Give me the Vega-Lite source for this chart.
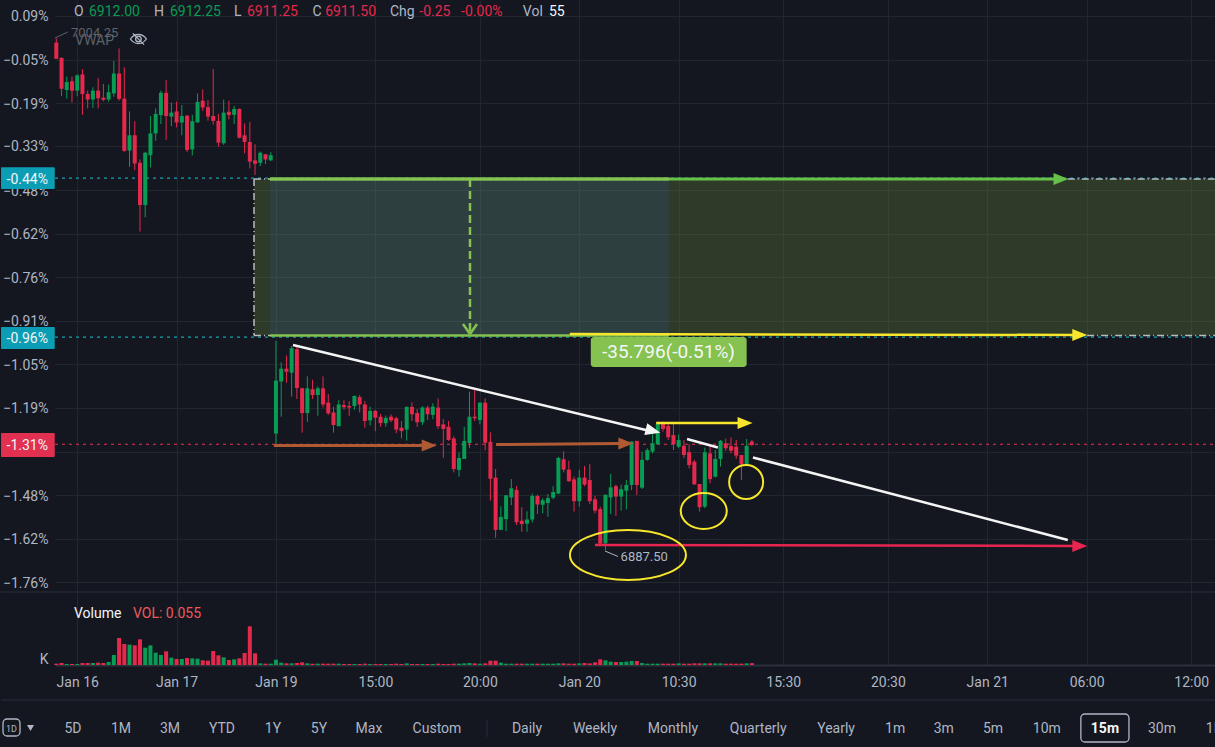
{"$schema":"https://vega.github.io/schema/vega-lite/v6.json","background":"#141720","padding":0,"spacing":0,"bounds":"flush","config":{"font":"Roboto","view":{"stroke":null},"axis":{"labelFont":"Roboto","labelFontSize":14,"labelColor":"#aeb6c4","gridColor":"#22262f","gridWidth":1,"ticks":false,"title":null,"labelOverlap":false,"labelFlush":false}},
"datasets":{
"candles":[
{"t":0,"o":0.003,"h":0.017,"l":-0.05,"c":-0.05,"kind":"down"},{"t":1,"o":-0.047,"h":-0.045,"l":-0.172,"c":-0.148,"kind":"down"},{"t":2,"o":-0.152,"h":-0.108,"l":-0.18,"c":-0.126,"kind":"up"},{"t":3,"o":-0.123,"h":-0.108,"l":-0.193,"c":-0.154,"kind":"down"},{"t":4,"o":-0.154,"h":-0.1,"l":-0.172,"c":-0.104,"kind":"up"},{"t":5,"o":-0.101,"h":-0.084,"l":-0.233,"c":-0.165,"kind":"down"},{"t":6,"o":-0.165,"h":-0.154,"l":-0.212,"c":-0.183,"kind":"down"},{"t":7,"o":-0.183,"h":-0.143,"l":-0.211,"c":-0.154,"kind":"up"},{"t":8,"o":-0.154,"h":-0.113,"l":-0.212,"c":-0.179,"kind":"down"},{"t":9,"o":-0.177,"h":-0.132,"l":-0.189,"c":-0.184,"kind":"down"},
{"t":10,"o":-0.183,"h":-0.134,"l":-0.19,"c":-0.159,"kind":"up"},{"t":11,"o":-0.163,"h":-0.057,"l":-0.174,"c":-0.098,"kind":"up"},{"t":12,"o":-0.098,"h":-0.016,"l":-0.187,"c":-0.181,"kind":"down"},{"t":13,"o":-0.18,"h":-0.078,"l":-0.354,"c":-0.351,"kind":"down"},{"t":14,"o":-0.35,"h":-0.222,"l":-0.403,"c":-0.3,"kind":"up"},{"t":15,"o":-0.3,"h":-0.254,"l":-0.414,"c":-0.392,"kind":"down"},{"t":16,"o":-0.39,"h":-0.379,"l":-0.615,"c":-0.528,"kind":"down"},{"t":17,"o":-0.528,"h":-0.354,"l":-0.568,"c":-0.357,"kind":"up"},{"t":18,"o":-0.365,"h":-0.237,"l":-0.405,"c":-0.294,"kind":"up"},{"t":19,"o":-0.294,"h":-0.212,"l":-0.318,"c":-0.23,"kind":"up"},
{"t":20,"o":-0.234,"h":-0.154,"l":-0.263,"c":-0.161,"kind":"up"},{"t":21,"o":-0.161,"h":-0.119,"l":-0.315,"c":-0.237,"kind":"down"},{"t":22,"o":-0.239,"h":-0.193,"l":-0.27,"c":-0.226,"kind":"up"},{"t":23,"o":-0.222,"h":-0.19,"l":-0.274,"c":-0.258,"kind":"down"},{"t":24,"o":-0.258,"h":-0.201,"l":-0.3,"c":-0.237,"kind":"up"},{"t":25,"o":-0.236,"h":-0.233,"l":-0.355,"c":-0.348,"kind":"down"},{"t":26,"o":-0.346,"h":-0.233,"l":-0.366,"c":-0.254,"kind":"up"},{"t":27,"o":-0.258,"h":-0.163,"l":-0.258,"c":-0.191,"kind":"up"},{"t":28,"o":-0.187,"h":-0.15,"l":-0.22,"c":-0.209,"kind":"down"},{"t":29,"o":-0.208,"h":-0.185,"l":-0.252,"c":-0.239,"kind":"down"},
{"t":30,"o":-0.237,"h":-0.083,"l":-0.265,"c":-0.253,"kind":"down"},{"t":31,"o":-0.253,"h":-0.23,"l":-0.337,"c":-0.324,"kind":"down"},{"t":32,"o":-0.326,"h":-0.183,"l":-0.331,"c":-0.226,"kind":"up"},{"t":33,"o":-0.223,"h":-0.187,"l":-0.248,"c":-0.234,"kind":"down"},{"t":34,"o":-0.233,"h":-0.204,"l":-0.263,"c":-0.214,"kind":"up"},{"t":35,"o":-0.214,"h":-0.212,"l":-0.31,"c":-0.308,"kind":"down"},{"t":36,"o":-0.3,"h":-0.261,"l":-0.359,"c":-0.322,"kind":"down"},{"t":37,"o":-0.322,"h":-0.256,"l":-0.408,"c":-0.386,"kind":"down"},{"t":38,"o":-0.382,"h":-0.329,"l":-0.43,"c":-0.393,"kind":"down"},{"t":39,"o":-0.39,"h":-0.353,"l":-0.401,"c":-0.357,"kind":"up"},
{"t":40,"o":-0.362,"h":-0.361,"l":-0.394,"c":-0.379,"kind":"down"},{"t":41,"o":-0.382,"h":-0.355,"l":-0.384,"c":-0.365,"kind":"up"},{"t":42,"o":-1.275,"h":-0.972,"l":-1.315,"c":-1.102,"kind":"up"},{"t":43,"o":-1.105,"h":-1.042,"l":-1.22,"c":-1.063,"kind":"up"},{"t":44,"o":-1.063,"h":-1.02,"l":-1.109,"c":-1.073,"kind":"down"},{"t":45,"o":-1.076,"h":-0.989,"l":-1.154,"c":-0.996,"kind":"up"},{"t":46,"o":-0.999,"h":-0.989,"l":-1.162,"c":-1.126,"kind":"down"},{"t":47,"o":-1.127,"h":-1.125,"l":-1.272,"c":-1.208,"kind":"down"},{"t":48,"o":-1.208,"h":-1.088,"l":-1.237,"c":-1.127,"kind":"up"},{"t":49,"o":-1.13,"h":-1.099,"l":-1.162,"c":-1.149,"kind":"down"},
{"t":50,"o":-1.149,"h":-1.121,"l":-1.217,"c":-1.127,"kind":"up"},{"t":51,"o":-1.127,"h":-1.088,"l":-1.19,"c":-1.18,"kind":"down"},{"t":52,"o":-1.174,"h":-1.146,"l":-1.214,"c":-1.209,"kind":"down"},{"t":53,"o":-1.206,"h":-1.187,"l":-1.272,"c":-1.247,"kind":"down"},{"t":54,"o":-1.251,"h":-1.166,"l":-1.251,"c":-1.18,"kind":"up"},{"t":55,"o":-1.182,"h":-1.166,"l":-1.197,"c":-1.189,"kind":"down"},{"t":56,"o":-1.185,"h":-1.169,"l":-1.217,"c":-1.19,"kind":"down"},{"t":57,"o":-1.185,"h":-1.151,"l":-1.198,"c":-1.152,"kind":"up"},{"t":58,"o":-1.156,"h":-1.149,"l":-1.206,"c":-1.18,"kind":"down"},{"t":59,"o":-1.18,"h":-1.169,"l":-1.256,"c":-1.234,"kind":"down"},
{"t":60,"o":-1.232,"h":-1.187,"l":-1.249,"c":-1.201,"kind":"up"},{"t":61,"o":-1.201,"h":-1.198,"l":-1.267,"c":-1.223,"kind":"down"},{"t":62,"o":-1.22,"h":-1.211,"l":-1.253,"c":-1.241,"kind":"down"},{"t":63,"o":-1.241,"h":-1.216,"l":-1.253,"c":-1.224,"kind":"up"},{"t":64,"o":-1.22,"h":-1.212,"l":-1.238,"c":-1.232,"kind":"down"},{"t":65,"o":-1.225,"h":-1.22,"l":-1.274,"c":-1.262,"kind":"down"},{"t":66,"o":-1.256,"h":-1.234,"l":-1.291,"c":-1.267,"kind":"down"},{"t":67,"o":-1.262,"h":-1.186,"l":-1.298,"c":-1.188,"kind":"up"},{"t":68,"o":-1.188,"h":-1.173,"l":-1.234,"c":-1.212,"kind":"down"},{"t":69,"o":-1.208,"h":-1.195,"l":-1.253,"c":-1.238,"kind":"down"},
{"t":70,"o":-1.238,"h":-1.186,"l":-1.247,"c":-1.19,"kind":"up"},{"t":71,"o":-1.19,"h":-1.184,"l":-1.231,"c":-1.212,"kind":"down"},{"t":72,"o":-1.214,"h":-1.176,"l":-1.228,"c":-1.187,"kind":"up"},{"t":73,"o":-1.19,"h":-1.16,"l":-1.26,"c":-1.251,"kind":"down"},{"t":74,"o":-1.245,"h":-1.228,"l":-1.354,"c":-1.26,"kind":"down"},{"t":75,"o":-1.253,"h":-1.234,"l":-1.299,"c":-1.296,"kind":"down"},{"t":76,"o":-1.291,"h":-1.284,"l":-1.402,"c":-1.391,"kind":"down"},{"t":77,"o":-1.394,"h":-1.337,"l":-1.416,"c":-1.355,"kind":"up"},{"t":78,"o":-1.358,"h":-1.253,"l":-1.358,"c":-1.299,"kind":"up"},{"t":79,"o":-1.306,"h":-1.138,"l":-1.323,"c":-1.22,"kind":"up"},
{"t":80,"o":-1.22,"h":-1.133,"l":-1.234,"c":-1.225,"kind":"down"},{"t":81,"o":-1.231,"h":-1.173,"l":-1.245,"c":-1.174,"kind":"up"},{"t":82,"o":-1.174,"h":-1.16,"l":-1.33,"c":-1.305,"kind":"down"},{"t":83,"o":-1.302,"h":-1.271,"l":-1.494,"c":-1.423,"kind":"down"},{"t":84,"o":-1.419,"h":-1.391,"l":-1.616,"c":-1.59,"kind":"down"},{"t":85,"o":-1.59,"h":-1.513,"l":-1.59,"c":-1.548,"kind":"up"},{"t":86,"o":-1.555,"h":-1.476,"l":-1.594,"c":-1.477,"kind":"up"},{"t":87,"o":-1.484,"h":-1.424,"l":-1.509,"c":-1.454,"kind":"up"},{"t":88,"o":-1.459,"h":-1.447,"l":-1.574,"c":-1.565,"kind":"down"},{"t":89,"o":-1.56,"h":-1.516,"l":-1.596,"c":-1.571,"kind":"down"},
{"t":90,"o":-1.57,"h":-1.529,"l":-1.596,"c":-1.556,"kind":"up"},{"t":91,"o":-1.556,"h":-1.471,"l":-1.566,"c":-1.479,"kind":"up"},{"t":92,"o":-1.479,"h":-1.475,"l":-1.538,"c":-1.507,"kind":"down"},{"t":93,"o":-1.508,"h":-1.486,"l":-1.536,"c":-1.493,"kind":"up"},{"t":94,"o":-1.502,"h":-1.473,"l":-1.547,"c":-1.486,"kind":"up"},{"t":95,"o":-1.485,"h":-1.447,"l":-1.49,"c":-1.466,"kind":"up"},{"t":96,"o":-1.471,"h":-1.351,"l":-1.473,"c":-1.355,"kind":"up"},{"t":97,"o":-1.359,"h":-1.333,"l":-1.402,"c":-1.393,"kind":"down"},{"t":98,"o":-1.393,"h":-1.364,"l":-1.432,"c":-1.431,"kind":"down"},{"t":99,"o":-1.425,"h":-1.416,"l":-1.53,"c":-1.496,"kind":"down"},
{"t":100,"o":-1.496,"h":-1.394,"l":-1.514,"c":-1.419,"kind":"up"},{"t":101,"o":-1.419,"h":-1.381,"l":-1.447,"c":-1.442,"kind":"down"},{"t":102,"o":-1.427,"h":-1.375,"l":-1.505,"c":-1.496,"kind":"down"},{"t":103,"o":-1.49,"h":-1.479,"l":-1.536,"c":-1.527,"kind":"down"},{"t":104,"o":-1.522,"h":-1.514,"l":-1.638,"c":-1.635,"kind":"down"},{"t":105,"o":-1.634,"h":-1.475,"l":-1.656,"c":-1.475,"kind":"up"},{"t":106,"o":-1.484,"h":-1.407,"l":-1.538,"c":-1.451,"kind":"up"},{"t":107,"o":-1.447,"h":-1.442,"l":-1.544,"c":-1.481,"kind":"down"},{"t":108,"o":-1.481,"h":-1.442,"l":-1.527,"c":-1.457,"kind":"up"},{"t":109,"o":-1.462,"h":-1.427,"l":-1.523,"c":-1.443,"kind":"up"},
{"t":110,"o":-1.443,"h":-1.301,"l":-1.46,"c":-1.301,"kind":"up"},{"t":111,"o":-1.299,"h":-1.299,"l":-1.476,"c":-1.443,"kind":"down"},{"t":112,"o":-1.452,"h":-1.334,"l":-1.456,"c":-1.361,"kind":"up"},{"t":113,"o":-1.361,"h":-1.323,"l":-1.364,"c":-1.329,"kind":"up"},{"t":114,"o":-1.334,"h":-1.274,"l":-1.34,"c":-1.307,"kind":"up"},{"t":115,"o":-1.31,"h":-1.236,"l":-1.312,"c":-1.242,"kind":"up"},{"t":116,"o":-1.242,"h":-1.236,"l":-1.269,"c":-1.26,"kind":"down"},{"t":117,"o":-1.25,"h":-1.238,"l":-1.296,"c":-1.287,"kind":"down"},{"t":118,"o":-1.28,"h":-1.242,"l":-1.329,"c":-1.31,"kind":"down"},{"t":119,"o":-1.318,"h":-1.278,"l":-1.323,"c":-1.296,"kind":"up"},
{"t":120,"o":-1.315,"h":-1.296,"l":-1.356,"c":-1.345,"kind":"down"},{"t":121,"o":-1.336,"h":-1.31,"l":-1.389,"c":-1.378,"kind":"down"},{"t":122,"o":-1.367,"h":-1.361,"l":-1.443,"c":-1.441,"kind":"down"},{"t":123,"o":-1.44,"h":-1.44,"l":-1.53,"c":-1.516,"kind":"down"},{"t":124,"o":-1.514,"h":-1.321,"l":-1.519,"c":-1.336,"kind":"up"},{"t":125,"o":-1.34,"h":-1.315,"l":-1.438,"c":-1.424,"kind":"down"},{"t":126,"o":-1.416,"h":-1.329,"l":-1.419,"c":-1.358,"kind":"up"},{"t":127,"o":-1.358,"h":-1.296,"l":-1.383,"c":-1.299,"kind":"up"},{"t":128,"o":-1.307,"h":-1.291,"l":-1.332,"c":-1.323,"kind":"down"},{"t":129,"o":-1.316,"h":-1.288,"l":-1.34,"c":-1.331,"kind":"down"},
{"t":130,"o":-1.318,"h":-1.296,"l":-1.358,"c":-1.347,"kind":"down"},{"t":131,"o":-1.345,"h":-1.345,"l":-1.427,"c":-1.376,"kind":"down"},{"t":132,"o":-1.376,"h":-1.293,"l":-1.378,"c":-1.315,"kind":"up"},{"t":133,"o":-1.301,"h":-1.296,"l":-1.316,"c":-1.312,"kind":"down"}],
"volume":[
{"t":0,"vol":0.04,"kind":"down"},{"t":1,"vol":0.06,"kind":"down"},{"t":2,"vol":0.03,"kind":"up"},{"t":3,"vol":0.03,"kind":"down"},{"t":4,"vol":0.03,"kind":"up"},{"t":5,"vol":0.06,"kind":"down"},{"t":6,"vol":0.06,"kind":"down"},{"t":7,"vol":0.06,"kind":"up"},{"t":8,"vol":0.07,"kind":"down"},{"t":9,"vol":0.06,"kind":"down"},{"t":10,"vol":0.09,"kind":"up"},{"t":11,"vol":0.3,"kind":"up"},{"t":12,"vol":0.81,"kind":"down"},{"t":13,"vol":0.63,"kind":"down"},{"t":14,"vol":0.61,"kind":"up"},{"t":15,"vol":0.59,"kind":"down"},{"t":16,"vol":0.77,"kind":"down"},{"t":17,"vol":0.52,"kind":"up"},{"t":18,"vol":0.59,"kind":"up"},{"t":19,"vol":0.37,"kind":"up"},{"t":20,"vol":0.3,"kind":"up"},{"t":21,"vol":0.41,"kind":"down"},{"t":22,"vol":0.22,"kind":"up"},{"t":23,"vol":0.18,"kind":"down"},{"t":24,"vol":0.18,"kind":"up"},{"t":25,"vol":0.21,"kind":"down"},{"t":26,"vol":0.2,"kind":"up"},{"t":27,"vol":0.19,"kind":"up"},{"t":28,"vol":0.14,"kind":"down"},{"t":29,"vol":0.13,"kind":"down"},{"t":30,"vol":0.42,"kind":"down"},{"t":31,"vol":0.29,"kind":"down"},{"t":32,"vol":0.23,"kind":"up"},{"t":33,"vol":0.15,"kind":"down"},{"t":34,"vol":0.17,"kind":"up"},{"t":35,"vol":0.2,"kind":"down"},{"t":36,"vol":0.36,"kind":"down"},{"t":37,"vol":1.16,"kind":"down"},{"t":38,"vol":0.35,"kind":"down"},{"t":39,"vol":0.05,"kind":"up"},{"t":40,"vol":0.04,"kind":"down"},{"t":41,"vol":0.04,"kind":"up"},{"t":42,"vol":0.16,"kind":"up"},{"t":43,"vol":0.07,"kind":"up"},{"t":44,"vol":0.05,"kind":"down"},{"t":45,"vol":0.05,"kind":"up"},{"t":46,"vol":0.06,"kind":"down"},{"t":47,"vol":0.08,"kind":"down"},{"t":48,"vol":0.05,"kind":"up"},{"t":49,"vol":0.04,"kind":"down"},
{"t":50,"vol":0.04,"kind":"up"},{"t":51,"vol":0.04,"kind":"down"},{"t":52,"vol":0.04,"kind":"down"},{"t":53,"vol":0.04,"kind":"down"},{"t":54,"vol":0.04,"kind":"up"},{"t":55,"vol":0.03,"kind":"down"},{"t":56,"vol":0.03,"kind":"down"},{"t":57,"vol":0.03,"kind":"up"},{"t":58,"vol":0.03,"kind":"down"},{"t":59,"vol":0.04,"kind":"down"},{"t":60,"vol":0.03,"kind":"up"},{"t":61,"vol":0.03,"kind":"down"},{"t":62,"vol":0.03,"kind":"down"},{"t":63,"vol":0.03,"kind":"up"},{"t":64,"vol":0.03,"kind":"down"},{"t":65,"vol":0.04,"kind":"down"},{"t":66,"vol":0.03,"kind":"down"},{"t":67,"vol":0.05,"kind":"up"},{"t":68,"vol":0.03,"kind":"down"},{"t":69,"vol":0.03,"kind":"down"},{"t":70,"vol":0.03,"kind":"up"},{"t":71,"vol":0.03,"kind":"down"},{"t":72,"vol":0.03,"kind":"up"},{"t":73,"vol":0.04,"kind":"down"},{"t":74,"vol":0.03,"kind":"down"},{"t":75,"vol":0.03,"kind":"down"},{"t":76,"vol":0.04,"kind":"down"},{"t":77,"vol":0.04,"kind":"up"},{"t":78,"vol":0.05,"kind":"up"},{"t":79,"vol":0.06,"kind":"up"},{"t":80,"vol":0.05,"kind":"down"},{"t":81,"vol":0.04,"kind":"up"},{"t":82,"vol":0.05,"kind":"down"},{"t":83,"vol":0.13,"kind":"down"},{"t":84,"vol":0.13,"kind":"down"},{"t":85,"vol":0.07,"kind":"up"},{"t":86,"vol":0.04,"kind":"up"},{"t":87,"vol":0.04,"kind":"up"},{"t":88,"vol":0.04,"kind":"down"},{"t":89,"vol":0.04,"kind":"down"},{"t":90,"vol":0.04,"kind":"up"},{"t":91,"vol":0.04,"kind":"up"},{"t":92,"vol":0.04,"kind":"down"},{"t":93,"vol":0.04,"kind":"up"},{"t":94,"vol":0.04,"kind":"up"},{"t":95,"vol":0.04,"kind":"up"},{"t":96,"vol":0.05,"kind":"up"},{"t":97,"vol":0.05,"kind":"down"},{"t":98,"vol":0.04,"kind":"down"},{"t":99,"vol":0.04,"kind":"down"},
{"t":100,"vol":0.05,"kind":"up"},{"t":101,"vol":0.06,"kind":"down"},{"t":102,"vol":0.05,"kind":"down"},{"t":103,"vol":0.08,"kind":"down"},{"t":104,"vol":0.17,"kind":"down"},{"t":105,"vol":0.14,"kind":"up"},{"t":106,"vol":0.1,"kind":"up"},{"t":107,"vol":0.09,"kind":"down"},{"t":108,"vol":0.09,"kind":"up"},{"t":109,"vol":0.1,"kind":"up"},{"t":110,"vol":0.12,"kind":"up"},{"t":111,"vol":0.12,"kind":"down"},{"t":112,"vol":0.06,"kind":"up"},{"t":113,"vol":0.04,"kind":"up"},{"t":114,"vol":0.04,"kind":"up"},{"t":115,"vol":0.04,"kind":"up"},{"t":116,"vol":0.04,"kind":"down"},{"t":117,"vol":0.04,"kind":"down"},{"t":118,"vol":0.04,"kind":"down"},{"t":119,"vol":0.05,"kind":"up"},{"t":120,"vol":0.04,"kind":"down"},{"t":121,"vol":0.04,"kind":"down"},{"t":122,"vol":0.05,"kind":"down"},{"t":123,"vol":0.05,"kind":"down"},{"t":124,"vol":0.05,"kind":"up"},{"t":125,"vol":0.05,"kind":"down"},{"t":126,"vol":0.05,"kind":"up"},{"t":127,"vol":0.05,"kind":"up"},{"t":128,"vol":0.04,"kind":"down"},{"t":129,"vol":0.04,"kind":"down"},{"t":130,"vol":0.04,"kind":"down"},{"t":131,"vol":0.04,"kind":"down"},{"t":132,"vol":0.05,"kind":"up"},{"t":133,"vol":0.055,"kind":"down"}],
"zones":[{"t":37.8,"t2":40.86,"v":-0.4429,"v2":-0.9545,"kind":"olive"},{"t":40.86,"t2":117.15,"v":-0.4429,"v2":-0.9545,"kind":"teal"},{"t":117.15,"t2":221.55,"v":-0.4429,"v2":-0.9545,"kind":"olive"}],
"levels":[{"t":-0.25,"t2":221.55,"v":-0.44,"v2":-0.44,"kind":"cyan"},{"t":-0.25,"t2":221.55,"v":-0.96,"v2":-0.96,"kind":"cyan"},{"t":-0.25,"t2":221.55,"v":-1.31,"v2":-1.31,"kind":"crimson"}],
"borders":[{"t":37.8,"t2":37.8,"v":-0.4429,"v2":-0.9545,"kind":"dash"},{"t":37.8,"t2":40.86,"v":-0.4429,"v2":-0.4429,"kind":"dash"},{"t":37.8,"t2":40.86,"v":-0.9545,"v2":-0.9545,"kind":"dash"},{"t":193.4,"t2":221.55,"v":-0.4429,"v2":-0.4429,"kind":"dash"},{"t":197.1,"t2":221.55,"v":-0.9545,"v2":-0.9545,"kind":"dash"}],
"badges":[{"t":102.2,"t2":132,"v":-0.9594,"v2":-1.0574,"kind":"lime"}],
"tags":[{"t":-10.57,"t2":-0.3,"v":-0.4046,"v2":-0.4755,"kind":"tagteal"},{"t":-10.57,"t2":-0.3,"v":-0.9267,"v2":-0.9986,"kind":"tagteal"},{"t":-10.57,"t2":-0.3,"v":-1.2732,"v2":-1.3516,"kind":"tagred"}],
"tagLabels":[{"t":-1.59,"v":-0.445,"label":"-0.44%","kind":"bright"},{"t":-1.59,"v":-0.966,"label":"-0.96%","kind":"bright"},{"t":-1.59,"v":-1.316,"label":"-1.31%","kind":"bright"}],
"thickLines":[{"t":40.86,"t2":191.1,"v":-0.4429,"v2":-0.4429,"kind":"green"},{"t":40.86,"t2":117.15,"v":-0.4429,"v2":-0.4429,"kind":"lime"},{"t":41.6,"t2":70.5,"v":-1.3141,"v2":-1.3141,"kind":"brown"},{"t":84.1,"t2":107.8,"v":-1.3108,"v2":-1.3075,"kind":"brown"}],
"lines":[{"t":40.86,"t2":117.15,"v":-0.9545,"v2":-0.9545,"kind":"lime"},{"t":98.2,"t2":194.8,"v":-0.9496,"v2":-0.9528,"kind":"yellow"},{"t":45.26,"t2":113.5,"v":-0.9855,"v2":-1.2666,"kind":"white"},{"t":120.6,"t2":126.5,"v":-1.2928,"v2":-1.3206,"kind":"white"},{"t":133.2,"t2":193.4,"v":-1.3533,"v2":-1.6229,"kind":"white"},{"t":114.7,"t2":131.1,"v":-1.2405,"v2":-1.2405,"kind":"yellow"},{"t":103,"t2":194.8,"v":-1.6393,"v2":-1.6426,"kind":"red"},{"t":77.76,"t2":79.1,"v":-0.9169,"v2":-0.9496,"kind":"lime"},{"t":80.44,"t2":79.1,"v":-0.9169,"v2":-0.9496,"kind":"lime"}],
"dashed":[{"t":79.1,"t2":79.1,"v":-0.4429,"v2":-0.9463,"kind":"lime"}],
"leaders":[{"t":104.9,"t2":107.4,"v":-1.6589,"v2":-1.6769,"kind":"label"},{"t":-0.25,"t2":2.2,"v":0.0181,"v2":0.0377,"kind":"muted"}],
"arrows":[{"t":192.1,"v":-0.4429,"a":0,"kind":"green"},{"t":195.7,"v":-0.9528,"a":0,"kind":"yellow"},{"t":71.3,"v":-1.3141,"a":0,"kind":"brown"},{"t":108.9,"v":-1.3075,"a":0,"kind":"brown"},{"t":131.7,"v":-1.2405,"a":0,"kind":"yellow"},{"t":195.7,"v":-1.6426,"a":0,"kind":"red"},{"t":114.1,"v":-1.2666,"a":14,"kind":"white"}],
"header":[{"t":3.38,"v":0.103,"label":"O","kind":"label"},{"t":6.25,"v":0.103,"label":"6912.00","kind":"up"},{"t":18.68,"v":0.103,"label":"H","kind":"label"},{"t":21.74,"v":0.103,"label":"6912.25","kind":"up"},{"t":33.98,"v":0.103,"label":"L","kind":"label"},{"t":36.46,"v":0.103,"label":"6911.25","kind":"down"},{"t":49,"v":0.103,"label":"C","kind":"label"},{"t":51.4,"v":0.103,"label":"6911.50","kind":"down"},{"t":63.8,"v":0.103,"label":"Chg","kind":"label"},{"t":69.4,"v":0.103,"label":"-0.25","kind":"down"},{"t":77.4,"v":0.103,"label":"-0.00%","kind":"down"},{"t":89.2,"v":0.103,"label":"Vol","kind":"label"},{"t":94.2,"v":0.103,"label":"55","kind":"bright"},{"t":3.58,"v":0.008,"label":"VWAP","kind":"muted"}],
"small":[{"t":2.81,"v":0.0344,"label":"7004.25","kind":"muted"},{"t":107.9,"v":-1.6776,"label":"6887.50","kind":"label"}],
"badgeText":[{"t":117.05,"v":-1.0084,"label":"-35.796(-0.51%)","kind":"bright"}],
"eye":[{"t":15.7,"v":0.0148,"kind":"label"}],
"ring1":[{"t":109.3,"v":-1.672,"kind":"yellow"}],
"ring2":[{"t":123.8,"v":-1.5282,"kind":"yellow"}],
"ring3":[{"t":131.9,"v":-1.4334,"kind":"yellow"}],
"volSep":[{"t":-10.6,"t2":221.55,"vol":2.19,"kind":"sep"}],
"volText":[{"t":3.38,"vol":1.53,"label":"Volume","kind":"bright"},{"t":14.66,"vol":1.53,"label":"VOL: 0.055","kind":"salmon"}],
"toolbar":[{"t":3.19,"r":18.5,"label":"5D","kind":"label"},{"t":12.37,"r":18.5,"label":"1M","kind":"label"},{"t":21.74,"r":18.5,"label":"3M","kind":"label"},{"t":31.68,"r":18.5,"label":"YTD","kind":"label"},{"t":41.43,"r":18.5,"label":"1Y","kind":"label"},{"t":50.23,"r":18.5,"label":"5Y","kind":"label"},{"t":59.79,"r":18.5,"label":"Max","kind":"label"},{"t":72.79,"r":18.5,"label":"Custom","kind":"label"},{"t":90,"r":18.5,"label":"Daily","kind":"label"},{"t":103,"r":18.5,"label":"Weekly","kind":"label"},{"t":117.9,"r":18.5,"label":"Monthly","kind":"label"},{"t":134.2,"r":18.5,"label":"Quarterly","kind":"label"},{"t":149.1,"r":18.5,"label":"Yearly","kind":"label"},{"t":160.4,"r":18.5,"label":"1m","kind":"label"},{"t":169.7,"r":18.5,"label":"3m","kind":"label"},{"t":179.1,"r":18.5,"label":"5m","kind":"label"},{"t":189.4,"r":18.5,"label":"10m","kind":"label"},{"t":211.4,"r":18.5,"label":"30m","kind":"label"}],
"toolbarActive":[{"t":200.5,"r":18.5,"label":"15m","kind":"bright"}],
"toolbarClip":[{"t":219.8,"r":18.5,"label":"1H","kind":"label"}],
"toolbarSmall":[{"t":-8.57,"r":18.5,"label":"1D","kind":"label"}],
"toolbarBoxes":[{"t":195.9,"t2":205.1,"r":33,"r2":5,"kind":"label"},{"t":-10.19,"t2":-6.94,"r":28,"r2":11,"kind":"label"}],
"toolbarRules":[{"t":-10.6,"t2":221.55,"r":47,"r2":47,"kind":"sep"},{"t":82.35,"t2":82.35,"r":27,"r2":10,"kind":"sep"}],
"toolbarTri":[{"t":-4.93,"r":19,"kind":"label"}]
},
"vconcat":[
{"width":1160,"height":592,
"encoding":{"x":{"field":"t","type":"quantitative","scale":{"domain":[-0.25,221.55],"nice":false,"zero":false,"padding":0},"axis":{"values":[4,23,42,61,81,100,119,139,159,178,197,217],"labels":false,"domain":false,"grid":true}},
"y":{"field":"v","type":"quantitative","scale":{"domain":[-1.793,0.1423],"nice":false,"zero":false},"axis":{"values":[0.09,-0.0524,-0.1948,-0.3349,-0.4795,-0.6219,-0.7642,-0.9066,-1.049,-1.1913,-1.3337,-1.476,-1.6184,-1.7608],"labelExpr":"format(datum.value,'.2f')+'%'","labelPadding":7,"labelOffset":1,"domain":false,"grid":true,"labelBaseline":"middle"}},
"color":{"field":"kind","type":"nominal","legend":null,"scale":{"domain":["up","down","green","lime","yellow","red","brown","white","label","muted","dash","cyan","crimson","tagteal","tagred","olive","teal","bright","salmon","sep"],"range":["#089c55","#e5294d","#67c048","#86c24f","#f7e62b","#e8254f","#b05a34","#f4f4f4","#aeb6c4","#5d6168","#b8bcc0","#17a2b0","#e8304f","#0b9db3","#e23050","#6e8d3f","#6e9d8c","#f4f6fa","#ef5a5a","#2a2e39"]}}},
"layer":[
{"data":{"name":"zones"},"mark":{"type":"rect","opacity":0.3},"encoding":{"x2":{"field":"t2"},"y2":{"field":"v2"}}},
{"data":{"name":"levels"},"mark":{"type":"rule","strokeWidth":1.2,"strokeDash":[3,4]},"encoding":{"x2":{"field":"t2"},"y2":{"field":"v2"}}},
{"data":{"name":"borders"},"mark":{"type":"rule","strokeWidth":1.5,"strokeDash":[7,3,1,3]},"encoding":{"x2":{"field":"t2"},"y2":{"field":"v2"}}},
{"data":{"name":"candles"},"mark":{"type":"rule","strokeWidth":1},"encoding":{"y":{"field":"h","type":"quantitative","scale":{"domain":[-1.793,0.1423],"nice":false,"zero":false}},"y2":{"field":"l"}}},
{"data":{"name":"candles"},"mark":{"type":"bar","size":4},"encoding":{"y":{"field":"o","type":"quantitative","scale":{"domain":[-1.793,0.1423],"nice":false,"zero":false}},"y2":{"field":"c"}}},
{"data":{"name":"badges"},"mark":{"type":"rect","cornerRadius":3},"encoding":{"x2":{"field":"t2"},"y2":{"field":"v2"}}},
{"data":{"name":"thickLines"},"mark":{"type":"rule","strokeWidth":3},"encoding":{"x2":{"field":"t2"},"y2":{"field":"v2"}}},
{"data":{"name":"lines"},"mark":{"type":"rule","strokeWidth":2.5},"encoding":{"x2":{"field":"t2"},"y2":{"field":"v2"}}},
{"data":{"name":"dashed"},"mark":{"type":"rule","strokeWidth":2.5,"strokeDash":[8,4]},"encoding":{"x2":{"field":"t2"},"y2":{"field":"v2"}}},
{"data":{"name":"leaders"},"mark":{"type":"rule","strokeWidth":1},"encoding":{"x2":{"field":"t2"},"y2":{"field":"v2"}}},
{"data":{"name":"arrows"},"mark":{"type":"point","shape":"M-1,-0.8L1,0L-1,0.8Z","size":225,"filled":true,"opacity":1},"encoding":{"angle":{"field":"a","type":"quantitative","scale":null}}},
{"data":{"name":"ring1"},"mark":{"type":"point","shape":"M-1,0C-1,-.2375 -.5523,-.43 0,-.43C.5523,-.43 1,-.2375 1,0C1,.2375 .5523,.43 0,.43C-.5523,.43 -1,.2375 -1,0Z","size":13456,"filled":false,"strokeWidth":2,"opacity":1}},
{"data":{"name":"ring2"},"mark":{"type":"point","shape":"M-1,0C-1,-.431 -.5523,-.78 0,-.78C.5523,-.78 1,-.431 1,0C1,.431 .5523,.78 0,.78C-.5523,.78 -1,.431 -1,0Z","size":2116,"filled":false,"strokeWidth":2,"opacity":1}},
{"data":{"name":"ring3"},"mark":{"type":"point","shape":"circle","size":1156,"filled":false,"strokeWidth":2,"opacity":1}},
{"data":{"name":"eye"},"mark":{"type":"point","shape":"M-1,0C-.5,-.75 .5,-.75 1,0C.5,.75 -.5,.75 -1,0ZM-.35,0C-.35,-.45 .35,-.45 .35,0C.35,.45 -.35,.45 -.35,0ZM-.7,-.7L.7,.7","size":256,"filled":false,"strokeWidth":1.3,"opacity":1}},
{"data":{"name":"tags"},"mark":{"type":"rect","cornerRadius":1},"encoding":{"x2":{"field":"t2"},"y2":{"field":"v2"}}},
{"data":{"name":"tagLabels"},"mark":{"type":"text","align":"right","baseline":"middle","fontSize":14},"encoding":{"text":{"field":"label"}}},
{"data":{"name":"header"},"mark":{"type":"text","align":"left","baseline":"middle","fontSize":14},"encoding":{"text":{"field":"label"}}},
{"data":{"name":"small"},"mark":{"type":"text","align":"left","baseline":"middle","fontSize":13},"encoding":{"text":{"field":"label"}}},
{"data":{"name":"badgeText"},"mark":{"type":"text","align":"center","baseline":"middle","fontSize":19},"encoding":{"text":{"field":"label"}}}
]},
{"width":1160,"height":73,
"encoding":{"x":{"field":"t","type":"quantitative","scale":{"domain":[-0.25,221.55],"nice":false,"zero":false,"padding":0},"axis":{"values":[4,23,42,61,81,100,119,139,159,178,197,217],"labelExpr":"({'4':'Jan 16','23':'Jan 17','42':'Jan 19','61':'15:00','81':'20:00','100':'Jan 20','119':'10:30','139':'15:30','159':'20:30','178':'Jan 21','197':'06:00','217':'12:00'})[datum.value]","labelPadding":10,"domain":true,"domainColor":"#2d313c","domainWidth":2,"grid":true}},
"y":{"field":"vol","type":"quantitative","scale":{"domain":[0,2.19],"nice":false,"zero":true},"axis":{"values":[0.18],"labelExpr":"'K'","labelPadding":7,"domain":false,"grid":false}},
"color":{"field":"kind","type":"nominal","legend":null,"scale":{"domain":["up","down","green","lime","yellow","red","brown","white","label","muted","dash","cyan","crimson","tagteal","tagred","olive","teal","bright","salmon","sep"],"range":["#089c55","#e5294d","#67c048","#86c24f","#f7e62b","#e8254f","#b05a34","#f4f4f4","#aeb6c4","#5d6168","#b8bcc0","#17a2b0","#e8304f","#0b9db3","#e23050","#6e8d3f","#6e9d8c","#f4f6fa","#ef5a5a","#2a2e39"]}}},
"layer":[
{"data":{"name":"volume"},"mark":{"type":"bar","size":4}},
{"data":{"name":"volSep"},"mark":{"type":"rule","strokeWidth":1},"encoding":{"x2":{"field":"t2"}}},
{"data":{"name":"volText"},"mark":{"type":"text","align":"left","baseline":"middle","fontSize":14},"encoding":{"text":{"field":"label"}}}
]},
{"width":1160,"height":82,
"encoding":{"x":{"field":"t","type":"quantitative","axis":null,"scale":{"domain":[-0.25,221.55],"nice":false,"zero":false,"padding":0}},
"y":{"field":"r","type":"quantitative","axis":null,"scale":{"domain":[0,82],"nice":false,"zero":true}},
"color":{"field":"kind","type":"nominal","legend":null,"scale":{"domain":["up","down","green","lime","yellow","red","brown","white","label","muted","dash","cyan","crimson","tagteal","tagred","olive","teal","bright","salmon","sep"],"range":["#089c55","#e5294d","#67c048","#86c24f","#f7e62b","#e8254f","#b05a34","#f4f4f4","#aeb6c4","#5d6168","#b8bcc0","#17a2b0","#e8304f","#0b9db3","#e23050","#6e8d3f","#6e9d8c","#f4f6fa","#ef5a5a","#2a2e39"]}}},
"layer":[
{"data":{"name":"toolbarRules"},"mark":{"type":"rule","strokeWidth":1},"encoding":{"x2":{"field":"t2"},"y2":{"field":"r2"}}},
{"data":{"name":"toolbarBoxes"},"mark":{"type":"rect","cornerRadius":4,"fillOpacity":0,"strokeWidth":1.3},"encoding":{"stroke":{"field":"kind","type":"nominal","legend":null,"scale":{"domain":["label"],"range":["#aeb6c4"]}},"x2":{"field":"t2"},"y2":{"field":"r2"}}},
{"data":{"name":"toolbarTri"},"mark":{"type":"point","shape":"triangle-down","size":50,"filled":true,"opacity":1}},
{"data":{"name":"toolbar"},"mark":{"type":"text","align":"center","baseline":"middle","fontSize":14},"encoding":{"text":{"field":"label"}}},
{"data":{"name":"toolbarActive"},"mark":{"type":"text","align":"center","baseline":"middle","fontSize":14,"fontWeight":"bold"},"encoding":{"text":{"field":"label"}}},
{"data":{"name":"toolbarSmall"},"mark":{"type":"text","align":"center","baseline":"middle","fontSize":9},"encoding":{"text":{"field":"label"}}},
{"data":{"name":"toolbarClip"},"mark":{"type":"text","align":"left","baseline":"middle","fontSize":14,"clip":true},"encoding":{"text":{"field":"label"}}}
]}
]}
